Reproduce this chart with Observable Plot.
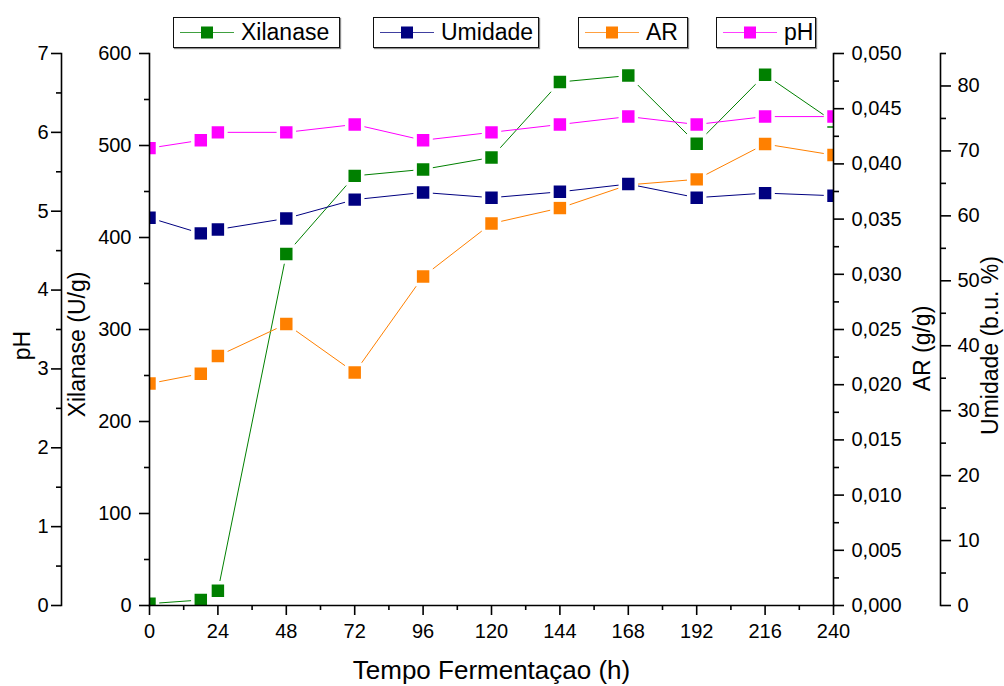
<!DOCTYPE html>
<html>
<head>
<meta charset="utf-8">
<script src="https://cdn.jsdelivr.net/npm/d3@7"></script>
<script src="https://cdn.jsdelivr.net/npm/@observablehq/plot@0.6"></script>
<style>
  html, body { margin: 0; padding: 0; background: #fff; }
  #chart { position: relative; width: 1004px; height: 686px; overflow: hidden; font-family: "Liberation Sans", Arial, sans-serif; }
  #chart svg.layer { position: absolute; left: 0; top: 0; }
  .legend-box { position: absolute; top: 17px; height: 29px; border: 1px solid #111; box-shadow: 1px 1px 1px rgba(0,0,0,0.45); background: #fff; display: flex; align-items: center; box-sizing: content-box; }
  .legend-box span { font-size: 23px; color: #000; line-height: 1; }
</style>
</head>
<body>
<div id="chart"></div>
<script>
// Fermentation time (h) and the four measured series
const hours    = [0, 18, 24, 48, 72, 96, 120, 144, 168, 192, 216, 240];
const xilanase = [2, 6, 16, 382, 467, 474, 487, 569, 576, 502, 577, 526];
const umidade  = [59.7, 57.3, 57.9, 59.6, 62.5, 63.6, 62.8, 63.7, 64.9, 62.8, 63.5, 63.1];
const ar       = [0.0201, 0.0210, 0.0226, 0.0255, 0.0211, 0.0298, 0.0346, 0.0360, 0.0381, 0.0386, 0.0418, 0.0408];
const ph       = [5.8, 5.9, 6.0, 6.0, 6.1, 5.9, 6.0, 6.1, 6.2, 6.1, 6.2, 6.2];

const seriesNames = ["Xilanase", "Umidade", "AR", "pH"];

// Tick values for each axis
const hourTicks  = [0, 24, 48, 72, 96, 120, 144, 168, 192, 216, 240];
const hourMinor  = [12, 36, 60, 84, 108, 132, 156, 180, 204, 228];
const phTicks    = [0, 1, 2, 3, 4, 5, 6, 7];
const phMinor    = [0.5, 1.5, 2.5, 3.5, 4.5, 5.5, 6.5];
const xilTicks   = [0, 100, 200, 300, 400, 500, 600];
const xilMinor   = [50, 150, 250, 350, 450, 550];
const arTicks    = [0, 0.005, 0.010, 0.015, 0.020, 0.025, 0.030, 0.035, 0.040, 0.045, 0.050];
const arMinor    = [0.0025, 0.0075, 0.0125, 0.0175, 0.0225, 0.0275, 0.0325, 0.0375, 0.0425, 0.0475];
const umiTicks   = [0, 10, 20, 30, 40, 50, 60, 70, 80];
const umiMinor   = [5, 15, 25, 35, 45, 55, 65, 75, 85];

const colors = { Xilanase: "#008000", Umidade: "#000080", AR: "#ff8000", pH: "#ff00ff" };

const W = 1004, H = 686;
const TOP = 53, BOTTOM = 81;            // plot frame spans y 53..605
const X_RANGE = [149, 833];             // time axis spans x 149..833
const FRAME_L = 149, FRAME_R = W - 833; // margins of the main frame
const AXIS_W = 1.6;

const chart = document.getElementById("chart");

function layer({marginLeft = FRAME_L, marginRight = FRAME_R, yDomain, marks, xAxis = false, yAxis = true}) {
  const svg = Plot.plot({
    width: W, height: H,
    marginTop: TOP, marginBottom: BOTTOM, marginLeft, marginRight,
    x: {domain: [0, 240], range: X_RANGE, ...(xAxis ? {} : {axis: null})},
    y: {domain: yDomain, ...(yAxis ? {} : {axis: null})},
    style: {background: "transparent", fontFamily: "'Liberation Sans', Arial, sans-serif", fontSize: "20px", color: "#000", overflow: "visible"},
    marks
  });
  svg.classList.add("layer");
  chart.appendChild(svg);
}

function seriesMarks(values, color) {
  const rows = hours.map((h, i) => ({h, v: values[i]}));
  return [
    Plot.line(rows, {x: "h", y: "v", stroke: color, strokeWidth: 1, clip: "frame"}),
    Plot.dot(rows, {x: "h", y: "v", symbol: "square", r: 9, fill: color, stroke: "white", strokeWidth: 3.5, clip: "frame"})
  ];
}

// Major ticks with labels, minor ticks without
const majorY = (ticks, anchor, pad, fmt) =>
  Plot.axisY(ticks, {anchor, tickSize: 10, tickPadding: pad, strokeWidth: AXIS_W, fontSize: 20, label: null, tickFormat: fmt});
const minorY = (ticks, anchor) =>
  Plot.axisY(ticks, {anchor, tickSize: 5, strokeWidth: AXIS_W, label: null, tickFormat: () => ""});

// Vertical axis titles, centred on (cx, cy)
const midY = (TOP + (H - BOTTOM)) / 2;
const title = (label, frameAnchor, cx, cy, anchorX) =>
  Plot.text([label], {
    text: d => d, frameAnchor, rotate: -90, textAnchor: "middle", lineAnchor: "middle",
    dx: cx - anchorX, dy: cy - midY, fontSize: 23, fill: "#000"
  });

// Data layers (bottom to top)
layer({yDomain: [0, 600], yAxis: false, marks: seriesMarks(xilanase, colors.Xilanase)});
layer({yDomain: [0, 0.05], yAxis: false, marks: seriesMarks(ar, colors.AR)});
layer({yDomain: [0, 85], yAxis: false, marks: seriesMarks(umidade, colors.Umidade)});
layer({yDomain: [0, 7], yAxis: false, marks: seriesMarks(ph, colors.pH)});

// pH axis (far left)
layer({
  marginLeft: 61, yDomain: [0, 7],
  marks: [
    Plot.frame({anchor: "left", strokeWidth: AXIS_W}),
    majorY(phTicks, "left", 3, d => String(d)),
    minorY(phMinor, "left"),
    title("pH", "left", 22, 345, 61)
  ]
});

// Xilanase axis and time axis
layer({
  yDomain: [0, 600], xAxis: true,
  marks: [
    Plot.frame({anchor: "left", strokeWidth: AXIS_W}),
    Plot.frame({anchor: "bottom", strokeWidth: AXIS_W}),
    majorY(xilTicks, "left", 8, d => String(d)),
    minorY(xilMinor, "left"),
    Plot.axisX(hourTicks, {anchor: "bottom", tickSize: 10, tickPadding: 8, strokeWidth: AXIS_W, fontSize: 20, label: null, tickFormat: d => String(d)}),
    Plot.axisX(hourMinor, {anchor: "bottom", tickSize: 5, strokeWidth: AXIS_W, label: null, tickFormat: () => ""}),
    title("Xilanase (U/g)", "left", 77, 344, FRAME_L),
    Plot.text(["Tempo Fermentaçao (h)"], {text: d => d, frameAnchor: "bottom", textAnchor: "middle", lineAnchor: "middle", dy: 65, fontSize: 26, fill: "#000"})
  ]
});

// AR axis (inner right)
layer({
  yDomain: [0, 0.05],
  marks: [
    Plot.frame({anchor: "right", strokeWidth: AXIS_W}),
    majorY(arTicks, "right", 8, d => d.toFixed(3).replace(".", ",")),
    minorY(arMinor, "right"),
    title("AR (g/g)", "right", 922, 348, 833)
  ]
});

// Umidade axis (far right)
layer({
  marginRight: 64, yDomain: [0, 85],
  marks: [
    Plot.frame({anchor: "right", strokeWidth: AXIS_W}),
    majorY(umiTicks, "right", 7, d => String(d)),
    minorY(umiMinor, "right"),
    title("Umidade (b.u. %)", "right", 990, 345, 940)
  ]
});

// Legend boxes across the top
const legendBoxes = [[173, 340], [373, 539], [578, 688], [716, 816]];
seriesNames.forEach((name, i) => {
  const [l, r] = legendBoxes[i];
  const box = d3.select(chart).append("div")
    .attr("class", "legend-box")
    .style("left", l + "px")
    .style("width", (r - l - 2) + "px");
  const sw = box.append("svg").attr("width", 67).attr("height", 29);
  sw.append("line").attr("x1", 6).attr("x2", 60).attr("y1", 14.5).attr("y2", 14.5)
    .attr("stroke", colors[name]).attr("stroke-width", 1).attr("stroke-opacity", 0.75);
  sw.append("rect").attr("x", 27).attr("y", 8.5).attr("width", 12).attr("height", 12)
    .attr("fill", colors[name]);
  box.append("span").text(name);
});
</script>
</body>
</html>
